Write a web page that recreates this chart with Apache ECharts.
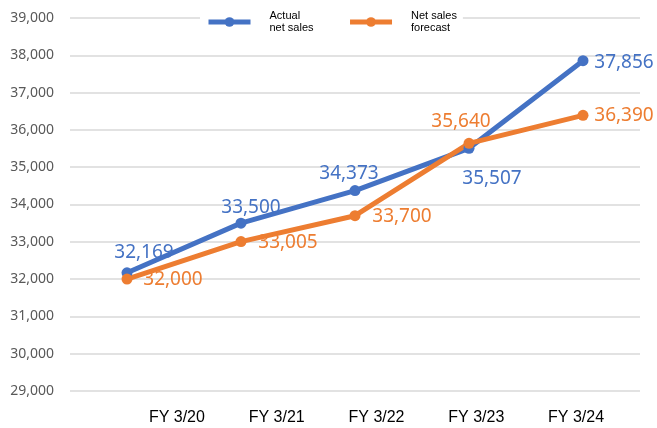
<!DOCTYPE html>
<html>
<head>
<meta charset="utf-8">
<script src="https://cdn.jsdelivr.net/npm/echarts@6/dist/echarts.min.js"></script>
<style>
  html, body { margin: 0; padding: 0; background: #fff; }
  #chart { width: 657px; height: 428px; }
</style>
</head>
<body>
<div id="chart"></div>
<script>
// Fiscal years and net sales (millions of yen)
const categories = ['FY 3/20', 'FY 3/21', 'FY 3/22', 'FY 3/23', 'FY 3/24'];
const actualSales = [32169, 33500, 34373, 35507, 37856];
const forecastSales = [32000, 33005, 33700, 35640, 36390];
const seriesNames = ['Actual\nnet sales', 'Net sales\nforecast'];

// Value-label placement around each point (dx, dy in px)
const actualLabelOffsets = [[17, -20], [10, -16], [-6, -17], [23, 30], [41, 2]];
const forecastLabelOffsets = [[46, 0], [47, 1], [47, 1], [-8, -22], [41, 0]];

const BLUE = '#4472C4';
const ORANGE = '#ED7D31';
const labelFont = '"Noto Sans", "Open Sans", sans-serif';

function withLabels(values, offsets) {
  return values.map((v, i) => ({
    value: v,
    label: { offset: offsets[i] }
  }));
}

function makeSeries(name, values, offsets, color) {
  return {
    name: name,
    type: 'line',
    xAxisIndex: 0,
    yAxisIndex: 0,
    data: withLabels(values, offsets),
    symbol: 'circle',
    symbolSize: 11,
    lineStyle: { color: color, width: 5 },
    itemStyle: { color: color },
    label: {
      show: true,
      position: 'inside',
      align: 'center',
      verticalAlign: 'middle',
      color: color,
      fontFamily: labelFont,
      fontSize: 19,
      formatter: p => p.value.toLocaleString('en-US')
    },
    emphasis: { disabled: true },
    z: 3
  };
}

const chart = echarts.init(document.getElementById('chart'), null, { renderer: 'canvas' });

chart.setOption({
  animation: false,
  backgroundColor: '#fff',
  grid: [
    { left: 70, right: 17, top: 18, bottom: 37, containLabel: false },
    { left: 127, width: 499, top: 18, bottom: 37, containLabel: false }
  ],
  legend: {
    top: 7,
    left: 200,
    itemWidth: 42,
    itemHeight: 12,
    itemGap: 34,
    padding: [3, 6],
    backgroundColor: '#fff',
    lineStyle: { width: 5 },
    itemStyle: { borderWidth: 0 },
    textStyle: {
      fontFamily: '"Liberation Sans", Arial, sans-serif',
      fontSize: 11,
      lineHeight: 12,
      color: '#000',
      padding: [0, 0, 0, 14]
    },
    data: seriesNames
  },
  xAxis: [
    {
      type: 'category',
      gridIndex: 0,
      data: categories,
      boundaryGap: true,
      axisLine: { show: false },
      axisTick: { show: false },
      axisLabel: { show: false }
    },
    {
      type: 'category',
      gridIndex: 1,
      data: categories,
      boundaryGap: true,
      axisLine: { show: false },
      axisTick: { show: false },
      axisLabel: {
        margin: 19,
        color: '#000',
        fontFamily: '"Liberation Sans", Arial, sans-serif',
        fontSize: 16
      }
    }
  ],
  yAxis: [
    {
      type: 'value',
      gridIndex: 0,
      min: 29000,
      max: 39000,
      interval: 1000,
      axisLine: { show: false },
      axisTick: { show: false },
      splitLine: { lineStyle: { color: '#d9d9d9', width: 1.5 } },
      axisLabel: {
        margin: 16,
        color: '#595959',
        fontFamily: '"Noto Sans", "Open Sans", sans-serif',
        fontSize: 14,
        formatter: v => v.toLocaleString('en-US')
      }
    },
    {
      type: 'value',
      gridIndex: 1,
      min: 29000,
      max: 39000,
      show: false,
      splitLine: { show: false }
    }
  ],
  series: [
    makeSeries(seriesNames[0], actualSales, actualLabelOffsets, BLUE),
    makeSeries(seriesNames[1], forecastSales, forecastLabelOffsets, ORANGE)
  ]
});
</script>
</body>
</html>
